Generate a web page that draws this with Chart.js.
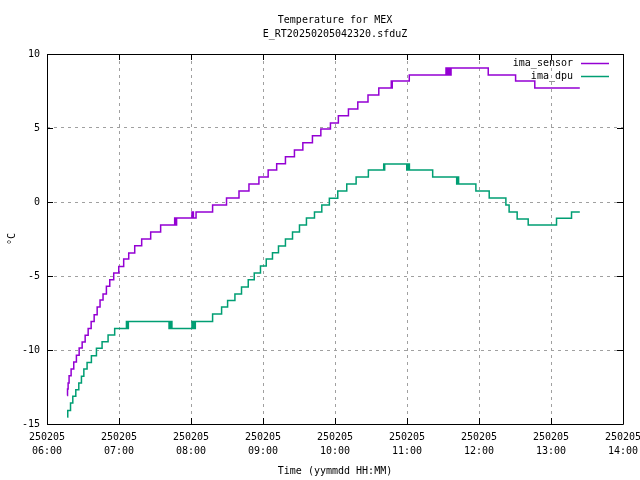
<!DOCTYPE html>
<html>
<head>
<meta charset="utf-8">
<script src="https://cdn.jsdelivr.net/npm/chart.js@4.4.0/dist/chart.umd.min.js"></script>
<style>
  body { margin: 0; background: #fff; }
</style>
</head>
<body>
<canvas id="chart" width="640" height="480"></canvas>
<script>
const titleLines = ['Temperature for MEX', 'E_RT20250205042320.sfduZ'];
const tickDate = '250205';
const tickTimes = ['06:00', '07:00', '08:00', '09:00', '10:00', '11:00', '12:00', '13:00', '14:00'];

/* x values are minutes after 06:00, y values are degC */
const sensorMin = [16.8, 17.1, 17.6, 18.4, 20.1, 22.3, 24.5, 26.8, 29.3, 31.8, 34.3, 36.8, 39.3, 41.8, 44.2, 46.7,
  49.5, 52.3, 55.6, 59.8, 63.9, 68.1, 73.1, 78.9, 86.4, 94.7,
  106.4, 106.8, 107.2, 107.6, 108.0,
  120.8, 121.2, 121.6, 122.0, 124.2,
  138.0, 149.6, 160.0, 168.3, 176.6, 184.3, 191.4, 198.7, 206.2, 213.2, 221.2, 228.2, 236.2, 242.8, 251.2,
  259.0, 267.5, 276.5, 286.9, 287.3, 287.7, 301.9,
  332.5, 332.9, 333.3, 333.7, 334.1, 334.5, 334.9, 335.3, 335.8, 336.4, 336.7,
  367.7, 390.5, 406.5, 444.0];
const sensorTemp = [-13.07, -12.64, -12.23, -11.74, -11.29, -10.81, -10.36, -9.87, -9.46, -9.01, -8.54, -8.07, -7.62, -7.10, -6.62, -6.22,
  -5.70, -5.25, -4.80, -4.35, -3.85, -3.45, -2.95, -2.50, -2.03, -1.55,
  -1.08, -1.55, -1.08, -1.55, -1.08,
  -0.68, -1.08, -0.68, -1.08, -0.68,
  -0.21, 0.27, 0.74, 1.21, 1.69, 2.16, 2.59, 3.06, 3.51, 4.01, 4.48, 4.93, 5.34, 5.83, 6.28,
  6.75, 7.23, 7.70, 8.17, 7.70, 8.17, 8.58,
  9.05, 8.58, 9.05, 8.58, 9.05, 8.58, 9.05, 8.58, 9.05, 8.58, 9.05,
  8.58, 8.17, 7.70, 7.70];

const dpuMin = [16.8, 17.3, 19.6, 21.5, 24.0, 26.5, 28.7, 30.7, 33.4, 37.0, 41.2, 45.9, 50.9, 56.4,
  66.2, 66.6, 67.0, 67.4, 67.8,
  101.7, 102.1, 102.5, 102.9, 103.3, 103.7, 104.1,
  120.8, 121.2, 121.6, 122.0, 122.4, 122.8, 123.6,
  138.0, 145.5, 150.5, 156.6, 162.1, 167.7, 172.7, 177.9, 182.7, 187.9, 192.9, 198.7, 204.6, 210.4, 216.2,
  222.9, 229.0, 235.3, 242.3, 249.8, 257.6, 267.8,
  280.6, 281.0, 281.4,
  299.8, 300.2, 300.6, 301.0, 301.4, 301.8, 302.0,
  321.4, 341.4, 342.2, 343.0, 357.4, 368.5, 382.4, 385.1, 391.8, 401.0, 424.6, 437.1, 444.0];
const dpuTemp = [-14.53, -14.08, -13.58, -13.13, -12.68, -12.23, -11.78, -11.29, -10.84, -10.39, -9.89, -9.44, -8.99, -8.54,
  -8.07, -8.54, -8.07, -8.54, -8.07,
  -8.54, -8.07, -8.54, -8.07, -8.54, -8.07, -8.54,
  -8.07, -8.54, -8.07, -8.54, -8.07, -8.54, -8.07,
  -7.57, -7.10, -6.65, -6.22, -5.75, -5.25, -4.80, -4.33, -3.85, -3.43, -2.98, -2.50, -2.03, -1.56, -1.08,
  -0.68, -0.20, 0.25, 0.74, 1.21, 1.69, 2.16,
  2.57, 2.16, 2.57,
  2.16, 2.57, 2.16, 2.57, 2.16, 2.57, 2.16,
  1.69, 1.21, 1.69, 1.21, 0.74, 0.27, -0.20, -0.68, -1.15, -1.56, -1.10, -0.68, -0.68];

const font = { family: 'DejaVu Sans Mono', size: 10, lineHeight: 1.4 };

function toPoints(mins, temps) {
    return mins.map((m, i) => ({ x: m, y: temps[i] }));
}

/* frame with inward ticks, title and legend like gnuplot */
const gnuplotLook = {
    id: 'gnuplotLook',
    afterDatasetsDraw(chart) {
        const { ctx, chartArea: a, scales: { x, y } } = chart;
        ctx.save();
        ctx.strokeStyle = '#000';
        ctx.lineWidth = 1;
        ctx.beginPath();
        ctx.rect(a.left + 0.5, a.top + 0.5, a.right - a.left, a.bottom - a.top);
        x.ticks.forEach(t => {
            const px = Math.round(x.getPixelForValue(t.value)) + 0.5;
            ctx.moveTo(px, a.bottom); ctx.lineTo(px, a.bottom - 6);
            ctx.moveTo(px, a.top); ctx.lineTo(px, a.top + 6);
        });
        y.ticks.forEach(t => {
            const py = Math.round(y.getPixelForValue(t.value)) + 0.5;
            ctx.moveTo(a.left, py); ctx.lineTo(a.left + 6, py);
            ctx.moveTo(a.right, py); ctx.lineTo(a.right - 6, py);
        });
        ctx.stroke();

        ctx.font = '10px "DejaVu Sans Mono"';
        ctx.fillStyle = '#000';
        ctx.textAlign = 'center';
        ctx.textBaseline = 'middle';
        const cx = (a.left + a.right) / 2;
        titleLines.forEach((t, i) => ctx.fillText(t, cx, 20 + i * 14));

        ctx.textAlign = 'right';
        chart.data.datasets.forEach((ds, i) => {
            const ly = a.top + 9 + i * 13;
            ctx.fillStyle = '#000';
            ctx.fillText(ds.label, a.right - 50, ly);
            ctx.strokeStyle = ds.borderColor;
            ctx.lineWidth = 1.5;
            ctx.beginPath();
            ctx.moveTo(a.right - 42, Math.round(ly) + 0.5);
            ctx.lineTo(a.right - 14, Math.round(ly) + 0.5);
            ctx.stroke();
        });
        ctx.restore();
    }
};

const ctx = document.getElementById('chart');

new Chart(ctx, {
    type: 'line',
    data: {
        datasets: [{
            label: 'ima_sensor',
            data: toPoints(sensorMin, sensorTemp),
            borderColor: '#9400d3',
            borderWidth: 1.5,
            pointRadius: 0,
            stepped: true,
            fill: false
        }, {
            label: 'ima_dpu',
            data: toPoints(dpuMin, dpuTemp),
            borderColor: '#009e73',
            borderWidth: 1.5,
            pointRadius: 0,
            stepped: true,
            fill: false
        }]
    },
    options: {
        responsive: false,
        animation: false,
        layout: { padding: { top: 54, right: 17, left: 0, bottom: 0 } },
        plugins: {
            legend: { display: false },
            tooltip: { enabled: false }
        },
        scales: {
            x: {
                type: 'linear',
                min: 0,
                max: 480,
                afterFit: s => {
                    s.height = 56;
                    s.paddingLeft = 0;
                    s.paddingRight = 0;
                },
                ticks: {
                    stepSize: 60,
                    autoSkip: false,
                    maxRotation: 0,
                    padding: 6,
                    color: '#000',
                    font: font,
                    callback: v => [tickDate, tickTimes[Math.round(v / 60)]]
                },
                grid: { color: '#a0a0a0', drawTicks: false },
                border: { display: false, dash: [3, 4] },
                title: { display: true, text: 'Time (yymmdd HH:MM)', color: '#000', font: font, padding: { top: 0, bottom: 2 } }
            },
            y: {
                min: -15,
                max: 10,
                afterFit: s => { s.width = 47; },
                ticks: { stepSize: 5, padding: 7, color: '#000', font: font },
                grid: { color: '#a0a0a0', drawTicks: false },
                border: { display: false, dash: [3, 4] },
                title: { display: true, text: '°C', color: '#000', font: font, padding: { top: 5, bottom: 0 } }
            }
        }
    },
    plugins: [gnuplotLook]
});
</script>
</body>
</html>
